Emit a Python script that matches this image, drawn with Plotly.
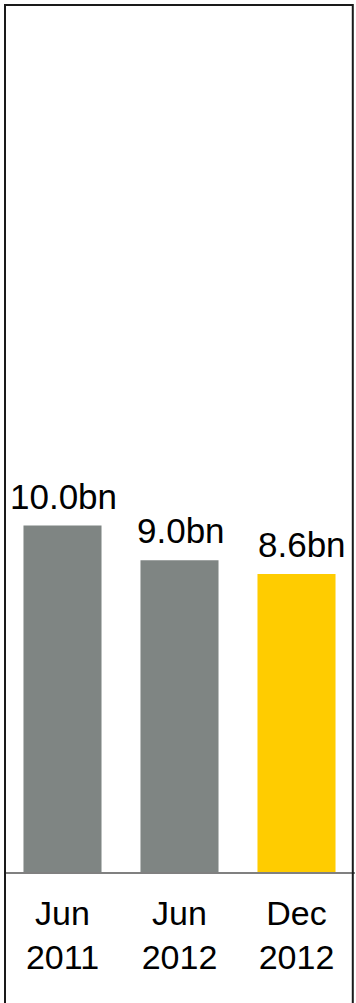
import plotly.graph_objects as go

# Periods and values (bn)
periods = ["Jun<br>2011", "Jun<br>2012", "Dec<br>2012"]
values = [10.0, 9.0, 8.6]
value_labels = ["10.0bn", "9.0bn", "8.6bn"]
bar_colors = ["#7f8583", "#7f8583", "#ffcc00"]
label_xshift = [1, 1, 5]

font_family = "Liberation Sans, Arial, sans-serif"
x_idx = list(range(len(periods)))

fig = go.Figure(
    go.Bar(
        x=x_idx,
        y=values,
        marker=dict(color=bar_colors, line=dict(width=0)),
        width=0.667,
        hoverinfo="skip",
    )
)

# value labels above each bar
for xi, v, lab, dx in zip(x_idx, values, value_labels, label_xshift):
    fig.add_annotation(
        x=xi, y=v, text=lab, showarrow=False,
        xanchor="center", yanchor="bottom", yshift=8, xshift=dx,
        font=dict(family=font_family, size=35, color="#000000"),
    )

# outer frame
fig.add_shape(
    type="rect", xref="paper", yref="paper",
    x0=0.00285, x1=0.9937, y0=-0.3, y1=1.0012,
    line=dict(color="#1a1a1a", width=2), fillcolor="rgba(0,0,0,0)",
    layer="above",
)

fig.update_layout(
    width=356, height=1003,
    margin=dict(l=4, r=1, t=6, b=131),
    paper_bgcolor="white", plot_bgcolor="white",
    showlegend=False,
    xaxis=dict(
        range=[-0.5, 2.5],
        tickmode="array", tickvals=x_idx, ticktext=periods,
        tickfont=dict(family=font_family, size=34, color="#000000"),
        showline=True, linecolor="#808080", linewidth=2,
        showgrid=False, zeroline=False,
        ticks="outside", ticklen=10, tickcolor="rgba(0,0,0,0)",
        fixedrange=True,
    ),
    yaxis=dict(
        range=[0, 25], visible=False, fixedrange=True,
    ),
)

fig.write_html("out.html", config={"displayModeBar": False})
